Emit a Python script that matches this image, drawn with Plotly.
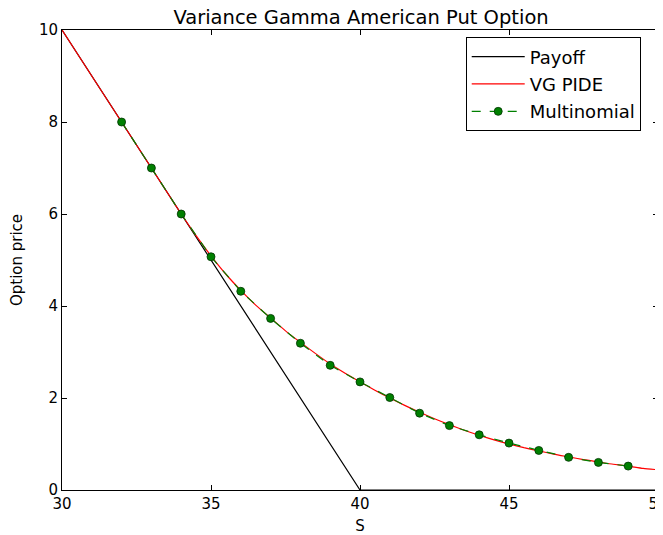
import plotly.graph_objects as go

# Data
payoff_s = [30, 40, 50]
payoff_v = [10, 0, 0]

pide_s = [30, 31, 32, 33, 34, 34.5, 35, 35.5, 36, 36.5, 37, 37.5, 38, 38.5, 39, 39.5,
          40, 40.5, 41, 41.5, 42, 42.5, 43, 43.5, 44, 44.5, 45, 45.5, 46, 46.5, 47,
          47.5, 48, 48.5, 49, 49.5, 50]
pide_v = [10.0, 9.0, 8.0, 7.0, 6.0, 5.53, 5.09, 4.69, 4.34, 4.02, 3.74, 3.46, 3.21, 2.97,
          2.74, 2.54, 2.35, 2.17, 2.0, 1.84, 1.69, 1.55, 1.42, 1.30, 1.19, 1.09, 1.0,
          0.92, 0.85, 0.78, 0.72, 0.66, 0.61, 0.56, 0.52, 0.47, 0.44]

multi_s = [32, 33, 34, 35, 36, 37, 38, 39, 40, 41, 42, 43, 44, 45, 46, 47, 48, 49]
multi_v = [8.0, 7.0, 6.0, 5.07, 4.32, 3.73, 3.19, 2.71, 2.35, 2.01, 1.67, 1.40, 1.20,
           1.02, 0.86, 0.71, 0.60, 0.52]

x_ticks = [30, 35, 40, 45, 50]
y_ticks = [0, 2, 4, 6, 8, 10]

font_family = "DejaVu Sans"

fig = go.Figure()
fig.add_trace(go.Scatter(x=payoff_s, y=payoff_v, mode="lines", name="Payoff", legendgroup="a",
                         line=dict(color="black", width=1.2)))
fig.add_trace(go.Scatter(x=pide_s, y=pide_v, mode="lines", name="VG PIDE", legendgroup="b",
                         line=dict(color="red", width=1.2, shape="spline", smoothing=0.6)))
fig.add_trace(go.Scatter(x=multi_s, y=multi_v, mode="lines+markers", name="Multinomial",
                         legendgroup="c",
                         line=dict(color="green", width=1.2, dash="dash"),
                         marker=dict(color="green", size=8,
                                     line=dict(color="#003300", width=0.8))))

axis_common = dict(showgrid=False, zeroline=False, showline=True, mirror="ticks",
                   linecolor="black", linewidth=1, ticks="inside", ticklen=5,
                   tickcolor="black", automargin=False, ticklabeloverflow="allow",
                   tickfont=dict(size=15, color="black", family=font_family),
                   title_font=dict(size=15, color="black", family=font_family))

fig.update_layout(
    width=655, height=527,
    margin=dict(l=54, r=5, t=22, b=45),
    paper_bgcolor="white", plot_bgcolor="white",
    font=dict(family=font_family, color="black"),
    title=dict(text="Variance Gamma American Put Option", x=0.539, xanchor="center",
               y=0.983, yanchor="middle", font=dict(size=19.5, color="black", family=font_family)),
    xaxis=dict(range=[30, 50], tickvals=x_ticks, title=dict(text="S", standoff=9), **axis_common),
    yaxis=dict(range=[0, 10], tickvals=y_ticks, title=dict(text="Option price", standoff=18), **axis_common),
    legend=dict(x=0.971, xanchor="right", y=0.984, yanchor="top",
                bordercolor="black", borderwidth=1, bgcolor="white",
                font=dict(size=18, color="black", family=font_family),
                tracegroupgap=1, itemwidth=53),
    showlegend=True,
)

fig.write_html("out.html")
